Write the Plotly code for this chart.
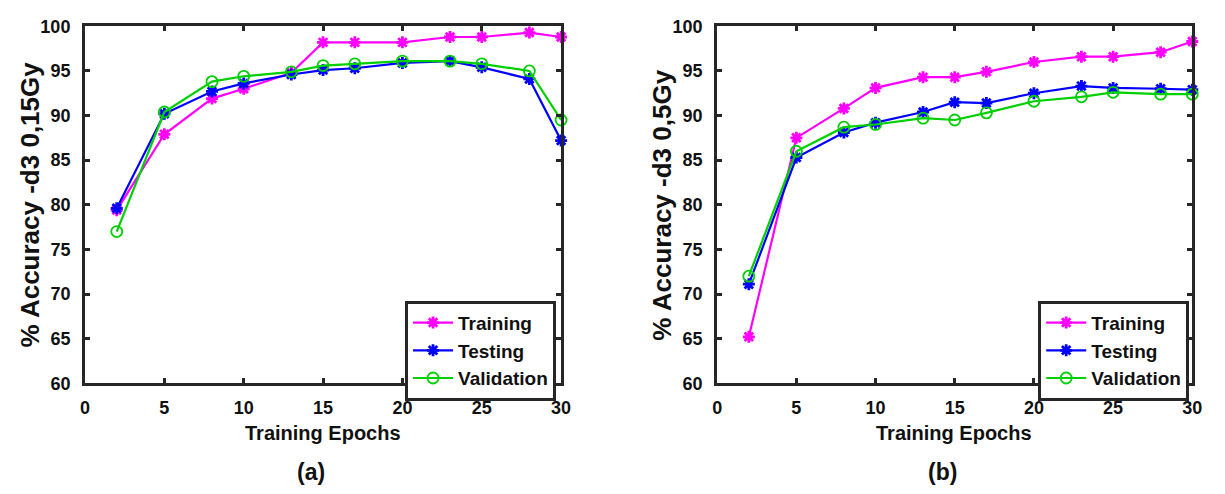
import plotly.graph_objects as go

epochs = [2, 5, 8, 10, 13, 15, 17, 20, 23, 25, 28, 30]

train_a = [79.4, 87.9, 91.9, 93.0, 94.8, 98.2, 98.2, 98.2, 98.8, 98.8, 99.3, 98.8]
test_a = [79.6, 90.2, 92.7, 93.6, 94.6, 95.1, 95.3, 95.9, 96.1, 95.4, 94.1, 87.2]
valid_a = [77.0, 90.4, 93.8, 94.4, 94.9, 95.6, 95.8, 96.1, 96.1, 95.8, 95.0, 89.5]

train_b = [65.2, 87.5, 90.8, 93.1, 94.3, 94.3, 94.9, 96.0, 96.6, 96.6, 97.1, 98.3]
test_b = [71.1, 85.3, 88.1, 89.2, 90.4, 91.5, 91.4, 92.5, 93.3, 93.1, 93.0, 92.9]
valid_b = [72.0, 86.0, 88.7, 89.0, 89.7, 89.5, 90.3, 91.6, 92.1, 92.6, 92.4, 92.4]

x_ticks = [0, 5, 10, 15, 20, 25, 30]
y_ticks = [60, 65, 70, 75, 80, 85, 90, 95, 100]

series_names = ["Training", "Testing", "Validation"]
colors = ["#ff00ff", "#0000ff", "#00d000"]
ylabels = ["% Accuracy -d3 0,15Gy", "% Accuracy -d3 0,5Gy"]
panel_labels = ["(a)", "(b)"]

FONT = "Liberation Sans, Arial, sans-serif"
FRAME = "#262626"
W, H = 1225, 494

fig = go.Figure()

panels = [(train_a, test_a, valid_a), (train_b, test_b, valid_b)]
for i, data in enumerate(panels):
    xa = "x" if i == 0 else "x2"
    ya = "y" if i == 0 else "y2"
    lg = "legend" if i == 0 else "legend2"
    for j, (name, vals) in enumerate(zip(series_names, data)):
        if j < 2:
            marker = dict(symbol="asterisk-open", size=10, color=colors[j],
                          line=dict(color=colors[j], width=2.8))
        else:
            marker = dict(symbol="circle-open", size=11, color=colors[j],
                          line=dict(color=colors[j], width=1.8))
        fig.add_trace(go.Scatter(
            x=epochs, y=vals, name=name, mode="lines+markers",
            line=dict(color=colors[j], width=2.2), marker=marker,
            xaxis=xa, yaxis=ya, legend=lg, cliponaxis=False))

axis_common = dict(
    showline=True, mirror="ticks", linewidth=3, linecolor=FRAME,
    ticks="inside", ticklen=5, tickwidth=3, tickcolor=FRAME,
    showgrid=False, zeroline=False,
    tickfont=dict(family=FONT, size=18, color="#111111", weight="bold"),
)

x_domains = [[81 / W, 563 / W], [721 / W, 1202 / W]]
y_domain = [1 - 389 / H, 1 - 17 / H]

legend_common = dict(
    xanchor="left", yanchor="top",
    bordercolor=FRAME, borderwidth=3, bgcolor="white",
    font=dict(family=FONT, size=19, color="#111111", weight="bold"),
    tracegroupgap=0, itemwidth=40,
)

fig.update_layout(
    width=W, height=H,
    margin=dict(l=0, r=0, t=0, b=0),
    paper_bgcolor="white", plot_bgcolor="white",
    xaxis=dict(domain=x_domains[0], range=[0, 30], tickvals=x_ticks, anchor="y",
               ticklabelstandoff=6, **axis_common),
    yaxis=dict(domain=y_domain, range=[60, 100], tickvals=y_ticks, anchor="x",
               ticklabelstandoff=8, **axis_common),
    xaxis2=dict(domain=x_domains[1], range=[0, 30], tickvals=x_ticks, anchor="y2",
                ticklabelstandoff=6, **axis_common),
    yaxis2=dict(domain=y_domain, range=[60, 100], tickvals=y_ticks, anchor="x2",
                ticklabelstandoff=8, **axis_common),
    legend=dict(x=405 / W, y=1 - 303 / H, **legend_common),
    legend2=dict(x=1046 / W, y=1 - 303 / H, **legend_common),
    showlegend=True,
)

ann_font_y = dict(family=FONT, size=26, color="#111111", weight="bold")
ann_font_x = dict(family=FONT, size=20, color="#111111", weight="bold")
ann_font_p = dict(family=FONT, size=23, color="#111111", weight="bold")
y_title_x = [25, 665]
x_centers = [322, 961]
p_centers = [310, 949]
for i in range(2):
    fig.add_annotation(text=ylabels[i], xref="paper", yref="paper",
                       x=y_title_x[i] / W, y=1 - 203 / H, textangle=-90,
                       showarrow=False, font=ann_font_y, xanchor="center", yanchor="middle")
    fig.add_annotation(text="Training Epochs", xref="paper", yref="paper",
                       x=x_centers[i] / W, y=1 - 441 / H,
                       showarrow=False, font=ann_font_x, xanchor="center", yanchor="middle")
    fig.add_annotation(text=panel_labels[i], xref="paper", yref="paper",
                       x=p_centers[i] / W, y=1 - 481 / H,
                       showarrow=False, font=ann_font_p, xanchor="center", yanchor="middle")

fig.write_html("out.html")
